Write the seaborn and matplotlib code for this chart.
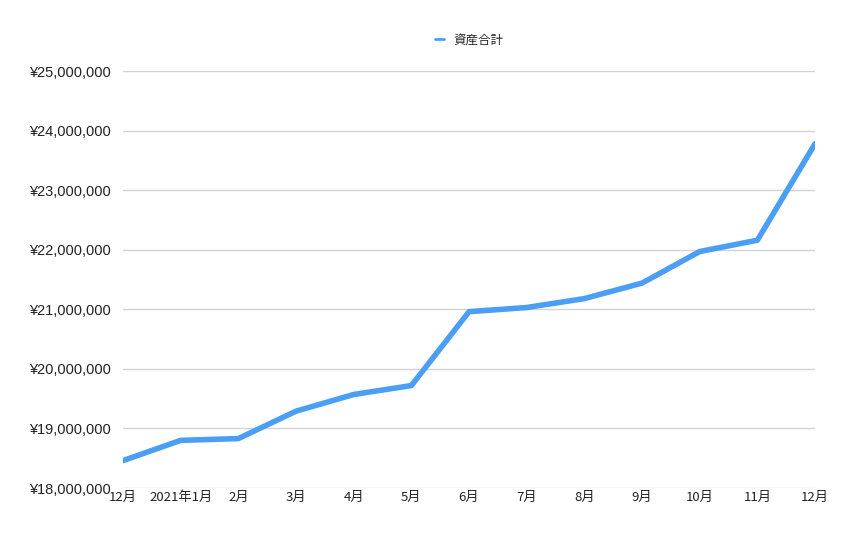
import numpy as np
import pandas as pd
import matplotlib
matplotlib.use("Agg")
import matplotlib.pyplot as plt
import matplotlib.ticker as mticker
import seaborn as sns

# monthly asset totals
months = ["12月", "2021年1月", "2月", "3月", "4月", "5月", "6月",
          "7月", "8月", "9月", "10月", "11月", "12月"]
totals = [18460000, 18800000, 18830000, 19290000, 19570000, 19720000, 20960000,
          21030000, 21180000, 21440000, 21970000, 22160000, 23780000]
series_name = "資産合計"

df = pd.DataFrame({"idx": np.arange(len(months)), "total": totals, "series": series_name})

sns.set_theme(style="white")
plt.rcParams["font.family"] = ["Noto Sans CJK JP", "DejaVu Sans"]

fig = plt.figure(figsize=(8.68, 5.34), dpi=100)
ax = fig.add_axes([0.1417, 0.0861, 0.7973, 0.7809])

sns.lineplot(data=df, x="idx", y="total", hue="series", palette=["#4a9ff5"],
             linewidth=4, ax=ax)

ax.set_xlim(0, len(months) - 1)
ax.set_ylim(18000000, 25000000)
ax.set_yticks(np.arange(18000000, 25000001, 1000000))
ax.yaxis.set_major_formatter(mticker.FuncFormatter(lambda v, p: f"¥{v:,.0f}"))
ax.set_xticks(df["idx"])
ax.set_xticklabels(months)
ax.tick_params(axis="x", length=0, pad=2, labelsize=9.5, colors="#222222")
ax.tick_params(axis="y", length=0, pad=9, labelsize=10.5, colors="#222222")
for lab in ax.get_yticklabels():
    lab.set_family(["Liberation Sans", "DejaVu Sans"])
ax.grid(axis="y", color="#d3d3d3", linewidth=1)
ax.set_axisbelow(True)
for s in ax.spines.values():
    s.set_visible(False)
ax.set_xlabel("")
ax.set_ylabel("")

leg = ax.legend(loc="lower center", bbox_to_anchor=(0.5, 1.032), frameon=False,
                fontsize=9, handlelength=0.75, handletextpad=0.7)
for line in leg.get_lines():
    line.set_linewidth(2)

fig.savefig("out.png", dpi=100)
